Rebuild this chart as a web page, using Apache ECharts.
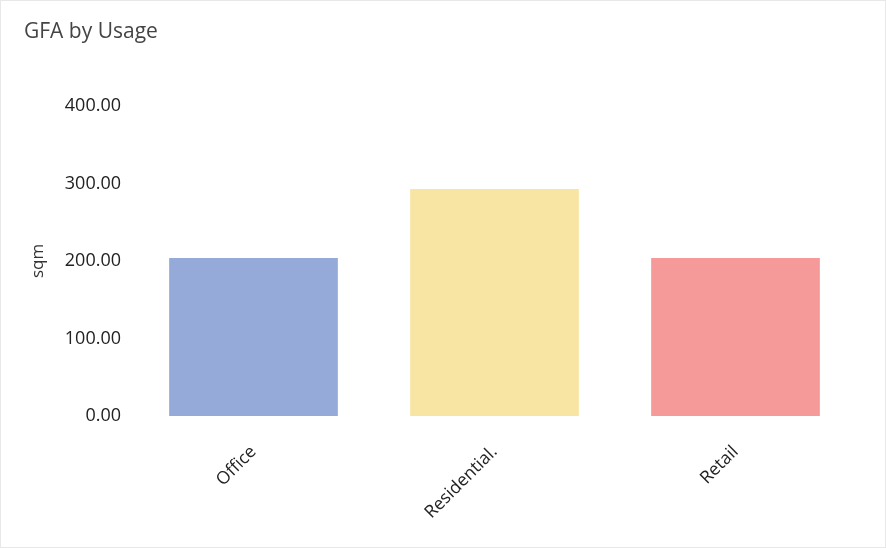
<!DOCTYPE html>
<html>
<head>
<meta charset="utf-8">
<script src="https://cdn.jsdelivr.net/npm/echarts@6/dist/echarts.min.js"></script>
<style>
html,body{margin:0;padding:0;background:#fff;}
#c{width:886px;height:548px;box-sizing:border-box;border:1px solid #e8e8e8;}
</style>
</head>
<body>
<div id="c"></div>
<script>
const categories = ['Office', 'Residential.', 'Retail'];
const values = [204, 293, 204];
const barColors = ['#95AAD8', '#F9E5A3', '#F59A98'];
const yTicks = [0, 100, 200, 300, 400];

const chart = echarts.init(document.getElementById('c'));
chart.setOption({
  animation: false,
  title: {
    text: 'GFA by Usage', left: 18, top: 16,
    textStyle: {fontFamily: 'Open Sans', fontSize: 21, fontWeight: 'normal', color: '#444'}
  },
  grid: {left: 132, right: 29, top: 105, bottom: 131},
  xAxis: {
    type: 'category', data: categories,
    axisLine: {show: false}, axisTick: {show: false},
    axisLabel: {rotate: 45, margin: 33, fontFamily: 'Open Sans', fontSize: 17.5, color: '#222'}
  },
  yAxis: {
    type: 'value', min: yTicks[0], max: yTicks[yTicks.length - 1], interval: 100,
    name: 'sqm', nameLocation: 'middle', nameGap: 86,
    nameTextStyle: {fontFamily: 'Open Sans', fontSize: 17, color: '#333'},
    splitLine: {show: false}, axisLine: {show: false}, axisTick: {show: false},
    axisLabel: {margin: 12, fontFamily: 'Open Sans', fontSize: 18, color: '#222',
      formatter: v => v.toFixed(2)}
  },
  series: [{
    type: 'bar', barWidth: '70%',
    data: values.map((v, i) => ({value: v, itemStyle: {color: barColors[i]}}))
  }]
});
</script>
</body>
</html>
